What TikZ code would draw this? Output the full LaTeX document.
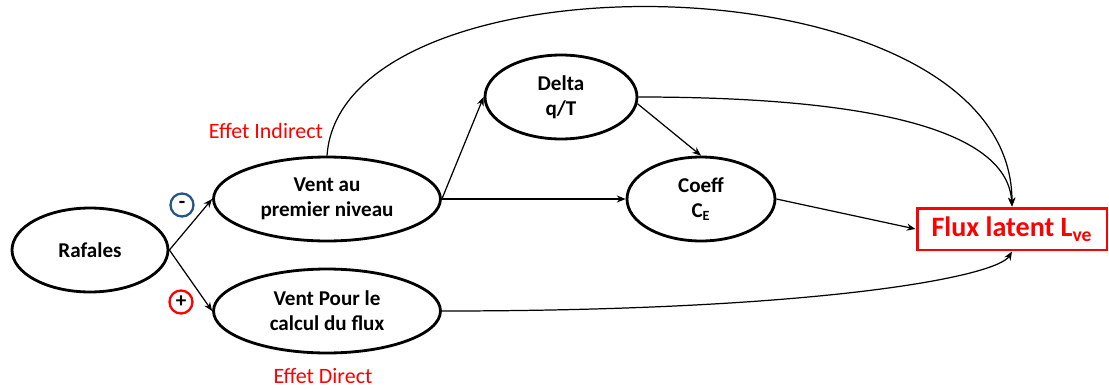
\documentclass[tikz,border=0pt]{standalone}
\usepackage{fontspec}
\setmainfont{Carlito}
\usepackage{xcolor}
\usetikzlibrary{arrows.meta, positioning, calc, shapes.geometric}
\definecolor{signblue}{RGB}{40,85,135}

\begin{document}
\begin{tikzpicture}[
    x=0.02cm, y=-0.02cm,
    >={Stealth[length=5pt,width=4pt]},
    state/.style={ellipse, draw=black, line width=1.6pt, inner sep=0pt, minimum width=#1, minimum height=1.68cm, align=center, font=\bfseries\fontsize{12}{14.2}\selectfont},
    target/.style={draw=red, line width=1.7pt, minimum width=3.8cm, minimum height=0.84cm, inner sep=0pt, text=red, font=\bfseries\fontsize{16}{18}\selectfont},
    sign/.style={circle, line width=1.3pt, minimum size=0.46cm, inner sep=0pt, font=\bfseries\fontsize{12}{13}\selectfont},
    effect/.style={text=red, font=\fontsize{12.5}{14}\selectfont},
    link/.style={->, line width=0.7pt}
]
    \useasboundingbox (0,0) rectangle (1109,389);

    % Place nodes
    \node[state=3.12cm] (rafales) at (90,250) {Rafales};
    \node[state=4.54cm] (ventniv) at (327,199) {Vent au\\premier niveau};
    \node[state=4.54cm] (ventflux) at (327,311) {Vent Pour le\\calcul du flux};
    \node[state=3.04cm] (delta) at (561,97) {Delta\\q/T};
    \node[state=2.96cm] (coeff) at (701,199) {Coeff\\C\textsubscript{E}};
    \node[target] (flux) at (1012,229) {Flux latent L\textsubscript{ve}};

    % Signs and effects
    \node[sign, draw=signblue] (moins) at (182,205) {-};
    \node[sign, draw=red] (plus) at (181,302) {+};
    \node[effect] (indirect) at (266,131) {Effet Indirect};
    \node[effect] (direct) at (323,376) {Effet Direct};

    % Straight links
    \draw[link] (rafales.east) -- (ventniv.west);
    \draw[link] (rafales.east) -- (ventflux.west);
    \draw[link] (ventniv.east) -- (delta.west);
    \draw[link] (ventniv.east) -- (coeff.west);
    \draw[link] (delta.-5) -- (coeff.north);
    \draw[link] (coeff.east) -- (flux.west);

    % Curved links to the flux
    \draw[link] (ventniv.north) .. controls +(15,-210) and +(0,-252) .. (flux.north);
    \draw[link] (delta.east) .. controls +(220,0) and +(-5,-80) .. (flux.north);
    \draw[link] (ventflux.east) .. controls +(380,0) and +(-15,25) .. (flux.south);

\end{tikzpicture}
\end{document}
